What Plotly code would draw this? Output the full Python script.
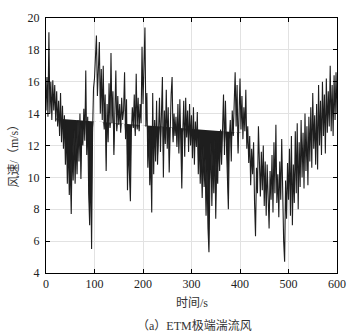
import numpy as np
import plotly.graph_objects as go

# time axis (s), 2-s sampling
time_s = list(range(0, 601, 2))

# wind speed (m/s)
wind = [
    14.2, 16.3, 13.8, 19.1, 14.0, 16.0, 13.6, 16.1, 14.2, 15.8,
    13.5, 15.4, 13.2, 14.8, 12.6, 15.3, 12.2, 14.5, 11.8, 13.9,
    10.8, 13.2, 9.6, 12.4, 8.9, 11.0, 7.7, 12.1, 9.8, 13.0,
    9.6, 12.5, 10.2, 13.6, 11.0, 14.0, 9.9, 13.1, 12.0, 14.3,
    12.3, 16.7, 11.4, 13.8, 9.0, 7.0, 11.2, 5.5, 12.8, 15.6,
    16.2, 17.8, 18.9, 15.1, 16.4, 18.5, 14.0, 16.8, 13.6, 17.0,
    13.0, 15.2, 10.4, 14.6, 12.2, 15.9, 13.1, 17.8, 13.4, 15.4,
    11.4, 14.8, 16.7, 12.9, 15.1, 13.3, 14.6, 12.8, 15.0, 13.6,
    14.2, 16.6, 12.4, 14.9, 9.2, 12.0, 10.5, 8.5, 12.8, 14.4,
    13.1, 15.2, 12.6, 16.5, 13.0, 15.0, 12.9, 14.6, 13.4, 18.2,
    14.6, 17.0, 19.4, 13.2, 15.3, 10.6, 12.9, 9.5, 11.4, 7.8,
    15.3, 10.2, 13.6, 11.0, 14.8, 10.8, 12.4, 15.0, 11.6, 13.8,
    16.3, 10.0, 14.2, 12.1, 15.5, 11.8, 14.4, 10.3, 13.5, 15.2,
    16.3, 12.2, 14.0, 12.6, 13.8, 11.9, 14.6, 11.5, 14.9, 12.3,
    9.3, 12.8, 14.8, 11.3, 15.0, 12.5, 14.2, 11.6, 14.6, 12.0,
    13.9, 11.2, 14.4, 10.8, 13.5, 11.9, 14.1, 10.2, 12.6, 9.6,
    11.8, 8.7, 12.0, 9.4, 11.2, 7.6, 10.5, 6.8, 5.3, 9.8,
    12.2, 8.2, 11.6, 9.0, 12.4, 7.4, 11.0, 9.6, 12.6, 10.4,
    13.0, 10.8, 13.8, 15.2, 11.4, 14.8, 12.1, 10.2, 8.0, 12.4,
    13.6, 11.0, 14.2, 12.6, 15.0, 16.6, 13.2, 15.8, 11.5, 14.6,
    16.2, 13.0, 15.1, 12.4, 14.4, 12.9, 15.5, 11.8, 13.2, 10.9,
    12.6, 9.5, 11.8, 10.2, 12.2, 8.4, 6.3, 10.6, 9.0, 13.2,
    10.4, 8.8, 11.6, 9.2, 12.0, 8.2, 11.0, 7.6, 10.8, 8.0,
    6.8, 10.4, 8.6, 11.4, 7.8, 12.2, 9.0, 13.3, 8.4, 10.2,
    7.5, 11.0, 8.6, 12.4, 7.2, 6.0, 4.7, 9.8, 7.4, 10.9,
    8.6, 11.8, 7.6, 12.6, 7.0, 10.8, 8.4, 12.9, 9.0, 13.4,
    8.0, 12.2, 9.4, 13.6, 10.0, 12.8, 9.3, 14.0, 10.4, 13.2,
    9.5, 13.8, 11.0, 14.4, 10.6, 15.3, 11.8, 13.9, 10.8, 14.6,
    10.5, 15.8, 12.0, 14.8, 11.4, 16.0, 12.6, 15.2, 11.5, 16.2,
    12.8, 15.4, 13.2, 17.0, 12.9, 15.8, 12.6, 16.4, 13.6, 16.6,
    14.0,
]

# straight reference edge of the filled band
band_t = [20, 405]
band_v = [13.7, 12.8]

x_ticks = [0, 100, 200, 300, 400, 500, 600]
y_ticks = [4, 6, 8, 10, 12, 14, 16, 18, 20]

t_arr = np.array(time_s, dtype=float)
w_arr = np.array(wind, dtype=float)
mask = (t_arr >= band_t[0]) & (t_arr <= band_t[1])
tb = t_arr[mask]
base = np.interp(tb, band_t, band_v)
low = np.minimum(w_arr[mask], base)

FONT = "Liberation Serif, Times New Roman, Noto Sans CJK SC, serif"
INK = "#1e1e1e"

fig = go.Figure()
fig.add_trace(go.Scatter(x=tb, y=base, mode="lines", line=dict(width=0, color=INK),
                         showlegend=False, hoverinfo="skip"))
fig.add_trace(go.Scatter(x=tb, y=low, mode="lines", line=dict(width=0, color=INK),
                         fill="tonexty", fillcolor=INK, showlegend=False, hoverinfo="skip"))
fig.add_trace(go.Scatter(x=time_s, y=wind, mode="lines",
                         line=dict(width=1.1, color=INK), showlegend=False))

axis_common = dict(
    showline=True, linecolor="black", linewidth=1, mirror="ticks",
    ticks="inside", ticklen=4, tickcolor="black",
    showgrid=True, gridcolor="#e2e2e2", gridwidth=1,
    zeroline=False, tickfont=dict(family=FONT, size=12, color="#222"),
)

fig.update_xaxes(range=[0, 600], tickvals=x_ticks, **axis_common)
fig.update_yaxes(range=[4, 20], tickvals=y_ticks, ticklabelstandoff=3, **axis_common)

fig.update_layout(
    width=357, height=335,
    margin=dict(l=46, r=18, t=11, b=62),
    plot_bgcolor="white", paper_bgcolor="white",
    font=dict(family=FONT, color="#222"),
    annotations=[
        dict(text="风速/（m/s）", xref="paper", yref="paper", x=-0.109, y=0.47,
             textangle=-90, showarrow=False, font=dict(family=FONT, size=12, color="#333"),
             xanchor="center", yanchor="middle"),
        dict(text="时间/s", xref="paper", yref="paper", x=0.5, y=-0.118,
             showarrow=False, font=dict(family=FONT, size=12, color="#333"),
             xanchor="center", yanchor="middle"),
        dict(text="（a）ETM极端湍流风", xref="paper", yref="paper", x=0.51, y=-0.206,
             showarrow=False, font=dict(family=FONT, size=12, color="#333"),
             xanchor="center", yanchor="middle"),
    ],
)

fig.write_html(
    "out.html",
    config={"displayModeBar": False, "staticPlot": True},
    post_script="document.body.style.margin='0';document.body.style.padding='0';"
                "document.documentElement.style.overflow='hidden';",
)
